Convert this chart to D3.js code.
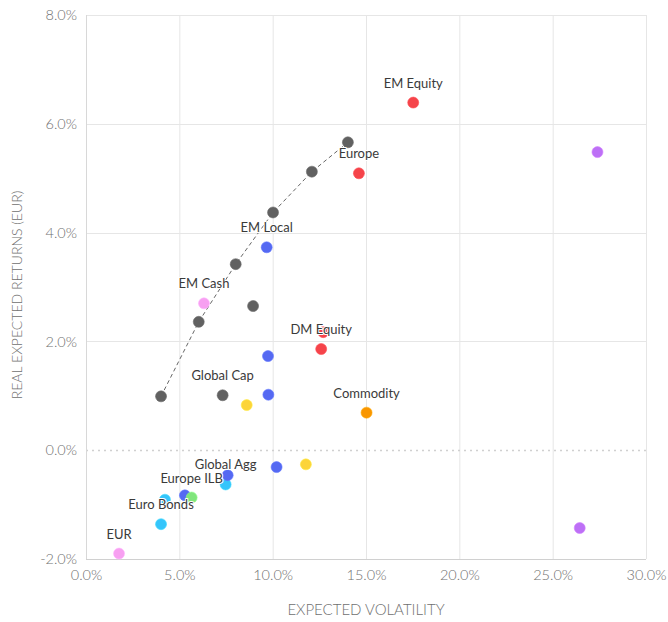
<!DOCTYPE html>
<html><head><meta charset="utf-8">
<script src="https://cdn.jsdelivr.net/npm/d3@7/dist/d3.min.js"></script>
<style>
body{margin:0;background:#fff;}
text{font-family:Lato, "Open Sans", sans-serif;}
</style></head>
<body><svg id="c" width="668" height="622"></svg>
<script>
// ---- data (x = expected volatility %, y = real expected return %) ----
const xTicks = [0, 5, 10, 15, 20, 25, 30];
const yTicks = [-2, 0, 2, 4, 6, 8];
const frontier = [[4.02,0.99],[6.04,2.36],[8.02,3.42],[10.02,4.37],[12.10,5.12],[14.03,5.66]];
const portfolios = [[7.32,1.01,"Global Cap"],[8.95,2.65,""]];
const equities = [[17.53,6.39,"EM Equity"],[14.62,5.09,"Europe"],[12.60,1.86,"DM Equity"],[12.71,2.17,""]];
const bonds = [[9.68,3.73,"EM Local"],[9.75,1.73,""],[9.77,1.02,""],[7.59,-0.46,""],[10.21,-0.31,""],[5.30,-0.83,""]];
const govBonds = [[7.48,-0.63,"Global Agg"],[4.02,-1.36,"Euro Bonds"],[4.23,-0.91,""]];
const cash = [[6.32,2.70,"EM Cash"],[1.77,-1.90,"EUR"]];
const inflationLinked = [[5.66,-0.87,"Europe ILB"]];
const credit = [[8.61,0.83,""],[11.78,-0.26,""]];
const commodity = [[15.03,0.69,"Commodity"]];
const alternatives = [[27.40,5.48,""],[26.45,-1.43,""]];

const series = [
  {name:"Portfolios", data:portfolios, color:"#616161"},
  {name:"Frontier", data:frontier, color:"#616161"},
  {name:"Equities", data:equities, color:"#f5444a"},
  {name:"Govt Bonds", data:govBonds, color:"#35c5fb"},
  {name:"Bonds", data:bonds, color:"#5569f2"},
  {name:"Cash", data:cash, color:"#f7a0f1"},
  {name:"ILB", data:inflationLinked, color:"#80e57c"},
  {name:"Credit", data:credit, color:"#fcd43a"},
  {name:"Commodity", data:commodity, color:"#f99600"},
  {name:"Alternatives", data:alternatives, color:"#bd70f6"}
];

const W=668,H=622, m={l:86,r:22,t:15,b:63};
const svg=d3.select("#c");
const x=d3.scaleLinear().domain([0,30]).range([m.l,W-m.r]);
const y=d3.scaleLinear().domain([-2,8]).range([H-m.b,m.t]);

// grid
const g=svg.append("g");
g.selectAll("line.vx").data(xTicks.slice(1)).join("line")
  .attr("x1",d=>x(d)+0.5).attr("x2",d=>x(d)+0.5).attr("y1",y(8)).attr("y2",y(-2))
  .attr("stroke","#e6e6e6");
g.selectAll("line.hy").data(yTicks.filter(d=>d!==0&&d!==-2)).join("line")
  .attr("x1",x(0)).attr("x2",x(30)).attr("y1",d=>Math.round(y(d))+0.5).attr("y2",d=>Math.round(y(d))+0.5)
  .attr("stroke","#e6e6e6");
// zero line dotted
g.append("line").attr("x1",x(0)).attr("x2",x(30)).attr("y1",Math.round(y(0))+0.5).attr("y2",Math.round(y(0))+0.5)
  .attr("stroke","#d0d0d0").attr("stroke-dasharray","2,4").attr("stroke-width",1.5);
// axis lines
g.append("line").attr("x1",x(0)+0.5).attr("x2",x(0)+0.5).attr("y1",y(8)).attr("y2",y(-2)).attr("stroke","#d8d8d8");
g.append("line").attr("x1",x(0)).attr("x2",x(30)).attr("y1",Math.round(y(-2))+0.5).attr("y2",Math.round(y(-2))+0.5).attr("stroke","#d0d0d0");

// axes via d3
const fmt=d=>d.toFixed(1)+"%";
const xa=svg.append("g").attr("transform",`translate(0,${y(-2)})`)
  .call(d3.axisBottom(x).tickValues(xTicks).tickFormat(fmt).tickSize(0).tickPadding(16));
const ya=svg.append("g").attr("transform",`translate(${x(0)},0)`)
  .call(d3.axisLeft(y).tickValues(yTicks).tickFormat(fmt).tickSize(0).tickPadding(9));
[xa,ya].forEach(a=>{a.select(".domain").remove();
  a.selectAll("text").attr("fill","#707070").style("font-size","14.5px").style("font-family","Lato").style("font-weight","300");});
xa.selectAll("text").attr("dy","0.32em");

// axis titles
svg.append("text").attr("x",(x(0)+x(30))/2).attr("y",615).attr("text-anchor","middle")
  .attr("fill","#707070").style("font-size","15px").style("font-weight","300").text("EXPECTED VOLATILITY");
svg.append("text").attr("transform",`translate(22,${(y(8)+y(-2))/2+8}) rotate(-90)`).attr("text-anchor","middle")
  .attr("fill","#707070").style("font-size","14px").style("font-weight","300").text("REAL EXPECTED RETURNS (EUR)");

// frontier dashed line
svg.append("path").datum(frontier)
  .attr("d",d3.line().x(d=>x(d[0])).y(d=>y(d[1])))
  .attr("fill","none").attr("stroke","#666").attr("stroke-width",1).attr("stroke-dasharray","4,3");

// markers
series.forEach(s=>{
  svg.append("g").selectAll("circle").data(s.data).join("circle")
    .attr("cx",d=>x(d[0])).attr("cy",d=>y(d[1])).attr("r",5.5)
    .attr("fill",s.color).attr("stroke",d3.color(s.color).brighter(0.3)).attr("stroke-width",0.6);
});

// data labels
const labs=series.flatMap(s=>s.data.filter(d=>d[2]));
svg.append("g").selectAll("text").data(labs).join("text")
  .attr("x",d=>x(d[0])).attr("y",d=>y(d[1])-15).attr("text-anchor","middle")
  .attr("fill","#3a3a3a").style("font-size","13px")
  .attr("stroke","#fff").attr("stroke-width",2).attr("paint-order","stroke").attr("stroke-linejoin","round")
  .text(d=>d[2]);
</script></body></html>
